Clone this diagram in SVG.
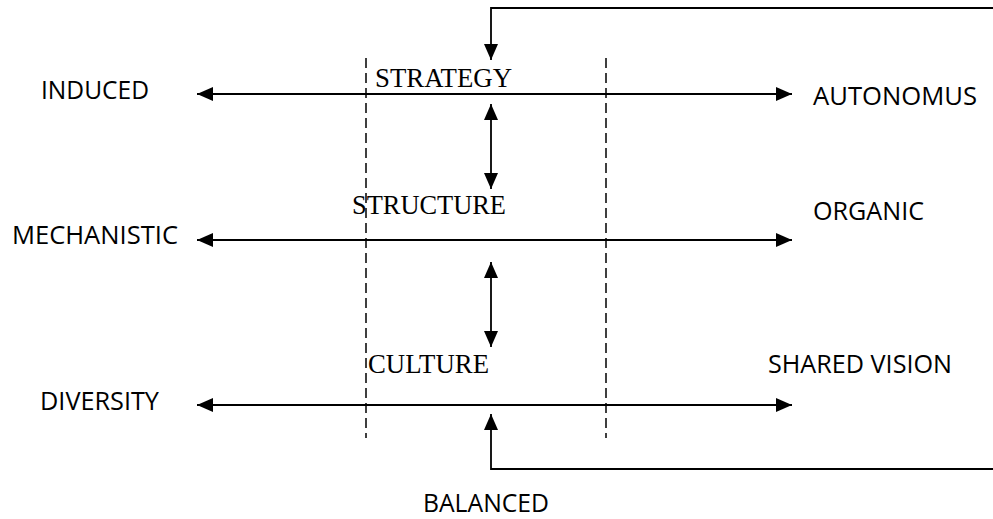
<svg xmlns="http://www.w3.org/2000/svg" width="993" height="519" viewBox="0 0 993 519">
  <style>
    .line { stroke: #000; stroke-width: 1.8; fill: none; }
    .dash { stroke: #000; stroke-width: 1.5; fill: none; stroke-dasharray: 10 5; }
    .sans { font-family: "Open Sans", "Liberation Sans", sans-serif; font-size: 25px; fill: #000; }
    .serif { font-family: "Liberation Serif", "Times New Roman", serif; font-size: 27px; fill: #000; }
  </style>
  <defs>
    <marker id="head" viewBox="0 0 16 14" refX="16" refY="7" markerWidth="16" markerHeight="14" markerUnits="userSpaceOnUse" orient="auto-start-reverse">
      <path d="M0,0 L16,7 L0,14 Z" fill="#000"/>
    </marker>
  </defs>

  <!-- dashed boundaries -->
  <g id="boundaries">
    <line class="dash" x1="366" y1="58" x2="366" y2="438"/>
    <line class="dash" x1="606" y1="58" x2="606" y2="438"/>
  </g>

  <!-- connectors -->
  <g id="connectors">
    <line class="line" x1="197" y1="94" x2="792" y2="94" marker-start="url(#head)" marker-end="url(#head)"/>
    <line class="line" x1="197" y1="240" x2="792" y2="240" marker-start="url(#head)" marker-end="url(#head)"/>
    <line class="line" x1="197" y1="405" x2="792" y2="405" marker-start="url(#head)" marker-end="url(#head)"/>
    <line class="line" x1="491" y1="104" x2="491" y2="189" marker-start="url(#head)" marker-end="url(#head)"/>
    <line class="line" x1="491" y1="262" x2="491" y2="347" marker-start="url(#head)" marker-end="url(#head)"/>
    <polyline class="line" points="993,8 491,8 491,60" marker-end="url(#head)"/>
    <polyline class="line" points="993,469 491,469 491,414" marker-end="url(#head)"/>
  </g>

  <!-- centre layers -->
  <g id="strategy"><text class="serif" x="375" y="87" textLength="137" lengthAdjust="spacingAndGlyphs">STRATEGY</text></g>
  <g id="structure"><text class="serif" x="352" y="214" textLength="154" lengthAdjust="spacingAndGlyphs">STRUCTURE</text></g>
  <g id="culture"><text class="serif" x="368" y="373" textLength="121" lengthAdjust="spacingAndGlyphs">CULTURE</text></g>

  <!-- left poles -->
  <g id="induced"><text class="sans" x="41" y="99" textLength="108" lengthAdjust="spacingAndGlyphs">INDUCED</text></g>
  <g id="mechanistic"><text class="sans" x="12" y="244" textLength="166" lengthAdjust="spacingAndGlyphs">MECHANISTIC</text></g>
  <g id="diversity"><text class="sans" x="40" y="410" textLength="119" lengthAdjust="spacingAndGlyphs">DIVERSITY</text></g>

  <!-- right poles -->
  <g id="autonomus"><text class="sans" x="813" y="105" textLength="164" lengthAdjust="spacingAndGlyphs">AUTONOMUS</text></g>
  <g id="organic"><text class="sans" x="813" y="220" textLength="111" lengthAdjust="spacingAndGlyphs">ORGANIC</text></g>
  <g id="shared-vision"><text class="sans" x="768" y="373" textLength="184" lengthAdjust="spacingAndGlyphs">SHARED VISION</text></g>

  <!-- bottom label -->
  <g id="balanced"><text class="sans" x="423" y="512" textLength="126" lengthAdjust="spacingAndGlyphs">BALANCED</text></g>
</svg>
